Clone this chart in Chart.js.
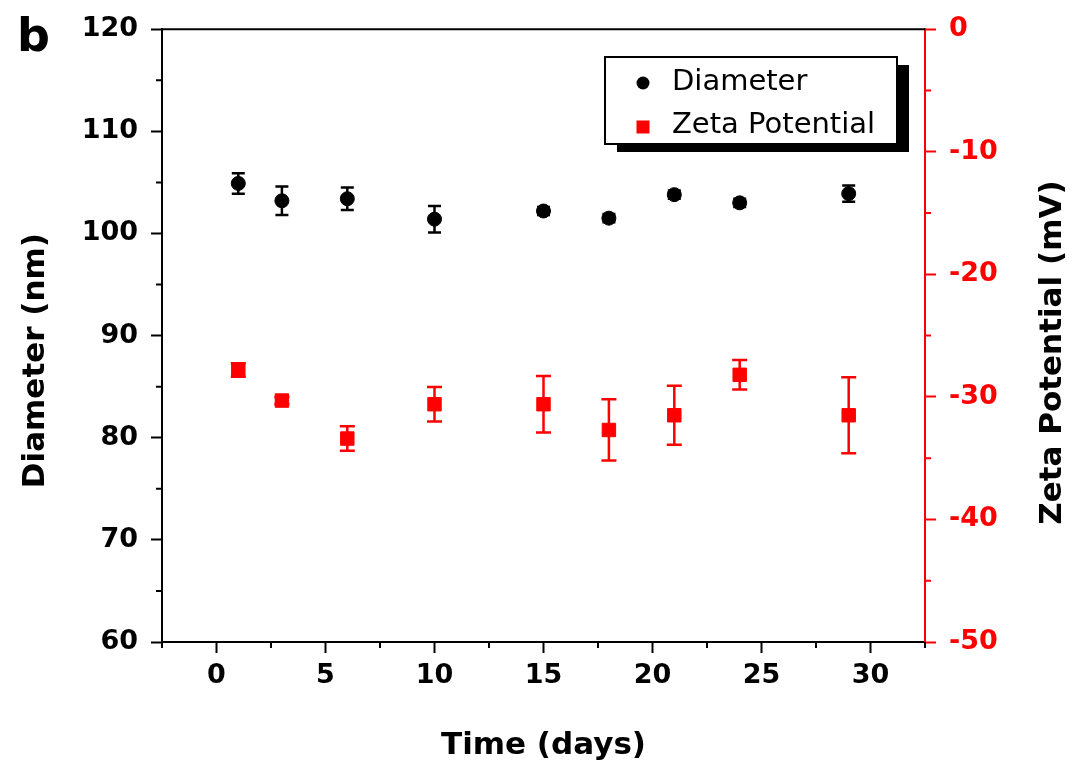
<!DOCTYPE html>
<html>
<head>
<meta charset="utf-8">
<script src="https://cdn.jsdelivr.net/npm/chart.js@4/dist/chart.umd.min.js"></script>
<style>
  body { margin: 0; background: #fff; }
  #wrap { width: 1084px; height: 767px; }
</style>
</head>
<body>
<div id="wrap"><canvas id="zetaChart" width="1084" height="767"></canvas></div>
<script>
// values
const days = [1, 3, 6, 10, 15, 18, 21, 24, 29];
const diameter = [104.9, 103.2, 103.4, 101.4, 102.2, 101.5, 103.8, 103.0, 103.9];
const diameterErr = [1.0, 1.4, 1.1, 1.3, 0.4, 0.4, 0.4, 0.4, 0.8];
const zeta = [-27.8, -30.3, -33.4, -30.6, -30.6, -32.7, -31.5, -28.2, -31.5];
const zetaErr = [0.55, 0.3, 1.0, 1.4, 2.3, 2.5, 2.4, 1.2, 3.1];

const xMajor = [0, 5, 10, 15, 20, 25, 30];
const yMajor = [60, 70, 80, 90, 100, 110, 120];
const y2Major = [-50, -40, -30, -20, -10, 0];

const RED = '#ff0000';
const FONT = 'DejaVu Sans';

const pts = (ys) => days.map((d, i) => ({ x: d, y: ys[i] }));

// error bars, drawn under the markers
const errorBars = {
  id: 'errorBars',
  beforeDatasetsDraw(chart) {
    const ctx = chart.ctx;
    const errs = [diameterErr, zetaErr];
    chart.data.datasets.forEach((ds, k) => {
      const ys = chart.scales[ds.yAxisID];
      const xs = chart.scales.x;
      ctx.save();
      ctx.strokeStyle = ds.backgroundColor;
      ctx.lineWidth = 2.5;
      ds.data.forEach((p, i) => {
        const px = xs.getPixelForValue(p.x);
        const top = ys.getPixelForValue(p.y + errs[k][i]);
        const bot = ys.getPixelForValue(p.y - errs[k][i]);
        const cap = k === 0 ? 6.5 : 7.5;
        ctx.beginPath();
        ctx.moveTo(px, top); ctx.lineTo(px, bot);
        ctx.moveTo(px - cap, top); ctx.lineTo(px + cap, top);
        ctx.moveTo(px - cap, bot); ctx.lineTo(px + cap, bot);
        ctx.stroke();
      });
      ctx.restore();
    });
  }
};

// minor ticks, top frame line, vertical titles, legend box and panel letter
const decorations = {
  id: 'decorations',
  afterDraw(chart) {
    const ctx = chart.ctx;
    const { left, right, top, bottom } = chart.chartArea;
    const { x, y, y2 } = chart.scales;
    const mid = (top + bottom) / 2;
    ctx.save();
    ctx.lineWidth = 2;

    ctx.strokeStyle = '#000';
    ctx.beginPath();
    ctx.moveTo(left, top); ctx.lineTo(right, top);
    for (let v = x.min; v <= x.max; v += 5) {
      const px = x.getPixelForValue(v);
      ctx.moveTo(px, bottom); ctx.lineTo(px, bottom + 6);
    }
    for (let v = y.min + 5; v < y.max; v += 10) {
      const py = y.getPixelForValue(v);
      ctx.moveTo(left, py); ctx.lineTo(left - 6, py);
    }
    ctx.stroke();

    ctx.strokeStyle = RED;
    ctx.beginPath();
    for (let v = y2.min + 5; v < y2.max; v += 10) {
      const py = y2.getPixelForValue(v);
      ctx.moveTo(right, py); ctx.lineTo(right + 6, py);
    }
    ctx.stroke();

    // both vertical titles read bottom to top
    ctx.fillStyle = '#000';
    ctx.font = 'bold 31px "' + FONT + '"';
    ctx.textAlign = 'center';
    ctx.textBaseline = 'middle';
    [[y, 36, mid + 25], [y2, 1053, mid + 17]].forEach(([s, tx, ty]) => {
      ctx.save();
      ctx.translate(tx, ty);
      ctx.rotate(-Math.PI / 2);
      ctx.fillText(s.options.title.text, 0, 0);
      ctx.restore();
    });
    ctx.textAlign = 'left';

    // legend with drop shadow
    const bx = 605, by = 57, bw = 292, bh = 87;
    ctx.fillStyle = '#000';
    ctx.fillRect(bx + 12, by + 8, bw, bh);
    ctx.fillStyle = '#fff';
    ctx.fillRect(bx, by, bw, bh);
    ctx.strokeStyle = '#000';
    ctx.strokeRect(bx, by, bw, bh);

    const ds = chart.data.datasets;
    ctx.fillStyle = ds[0].backgroundColor;
    ctx.beginPath();
    ctx.arc(bx + 38, by + 26, 6.5, 0, Math.PI * 2);
    ctx.fill();
    ctx.fillStyle = ds[1].backgroundColor;
    ctx.fillRect(bx + 38 - 6.5, by + 70 - 6.5, 13, 13);

    ctx.fillStyle = '#000';
    ctx.font = '29px "' + FONT + '"';
    ctx.fillText(ds[0].label, bx + 67, by + 25);
    ctx.fillText(ds[1].label, bx + 67, by + 68);

    ctx.font = 'bold 46px "' + FONT + '"';
    ctx.textBaseline = 'alphabetic';
    ctx.fillText('b', 17, 51);
    ctx.restore();
  }
};

const tickFont = { family: FONT, size: 27, weight: 'bold' };
const titleFont = { family: FONT, size: 31, weight: 'bold' };

new Chart(document.getElementById('zetaChart').getContext('2d'), {
  type: 'scatter',
  data: {
    datasets: [{
      label: 'Diameter',
      data: pts(diameter),
      yAxisID: 'y',
      backgroundColor: '#000',
      borderColor: '#000',
      pointStyle: 'circle',
      pointRadius: 7,
      pointHoverRadius: 7
    }, {
      label: 'Zeta Potential',
      data: pts(zeta),
      yAxisID: 'y2',
      backgroundColor: RED,
      borderColor: RED,
      pointStyle: 'rect',
      pointRadius: 9.5,
      pointHoverRadius: 9.5
    }]
  },
  options: {
    responsive: false,
    animation: false,
    layout: { padding: { top: 25, left: 0, right: 0, bottom: 0 } },
    plugins: {
      legend: { display: false },
      tooltip: { enabled: false }
    },
    scales: {
      x: {
        type: 'linear',
        min: -2.5,
        max: 32.5,
        afterBuildTicks: (s) => { s.ticks = xMajor.map(v => ({ value: v })); },
        afterFit: (s) => { s.height = 125; },
        grid: { drawOnChartArea: false, tickLength: 11, tickWidth: 2, tickColor: '#000' },
        border: { color: '#000', width: 2 },
        ticks: { color: '#000', font: tickFont, padding: 7, maxRotation: 0, autoSkip: false },
        title: { display: true, text: 'Time (days)', color: '#000', font: titleFont, padding: { top: 0, bottom: 2 } }
      },
      y: {
        position: 'left',
        min: 60,
        max: 120,
        afterBuildTicks: (s) => { s.ticks = yMajor.map(v => ({ value: v })); },
        afterFit: (s) => { s.width = 162; },
        grid: { drawOnChartArea: false, tickLength: 11, tickWidth: 2, tickColor: '#000' },
        border: { color: '#000', width: 2 },
        ticks: { color: '#000', font: tickFont, padding: 13 },
        title: { display: false, text: 'Diameter (nm)' }
      },
      y2: {
        position: 'right',
        min: -50,
        max: 0,
        afterBuildTicks: (s) => { s.ticks = y2Major.map(v => ({ value: v })); },
        afterFit: (s) => { s.width = 159; },
        grid: { drawOnChartArea: false, tickLength: 11, tickWidth: 2, tickColor: RED },
        border: { color: RED, width: 2 },
        ticks: { color: RED, font: tickFont, padding: 13 },
        title: { display: false, text: 'Zeta Potential (mV)' }
      }
    }
  },
  plugins: [errorBars, decorations]
});
</script>
</body>
</html>
